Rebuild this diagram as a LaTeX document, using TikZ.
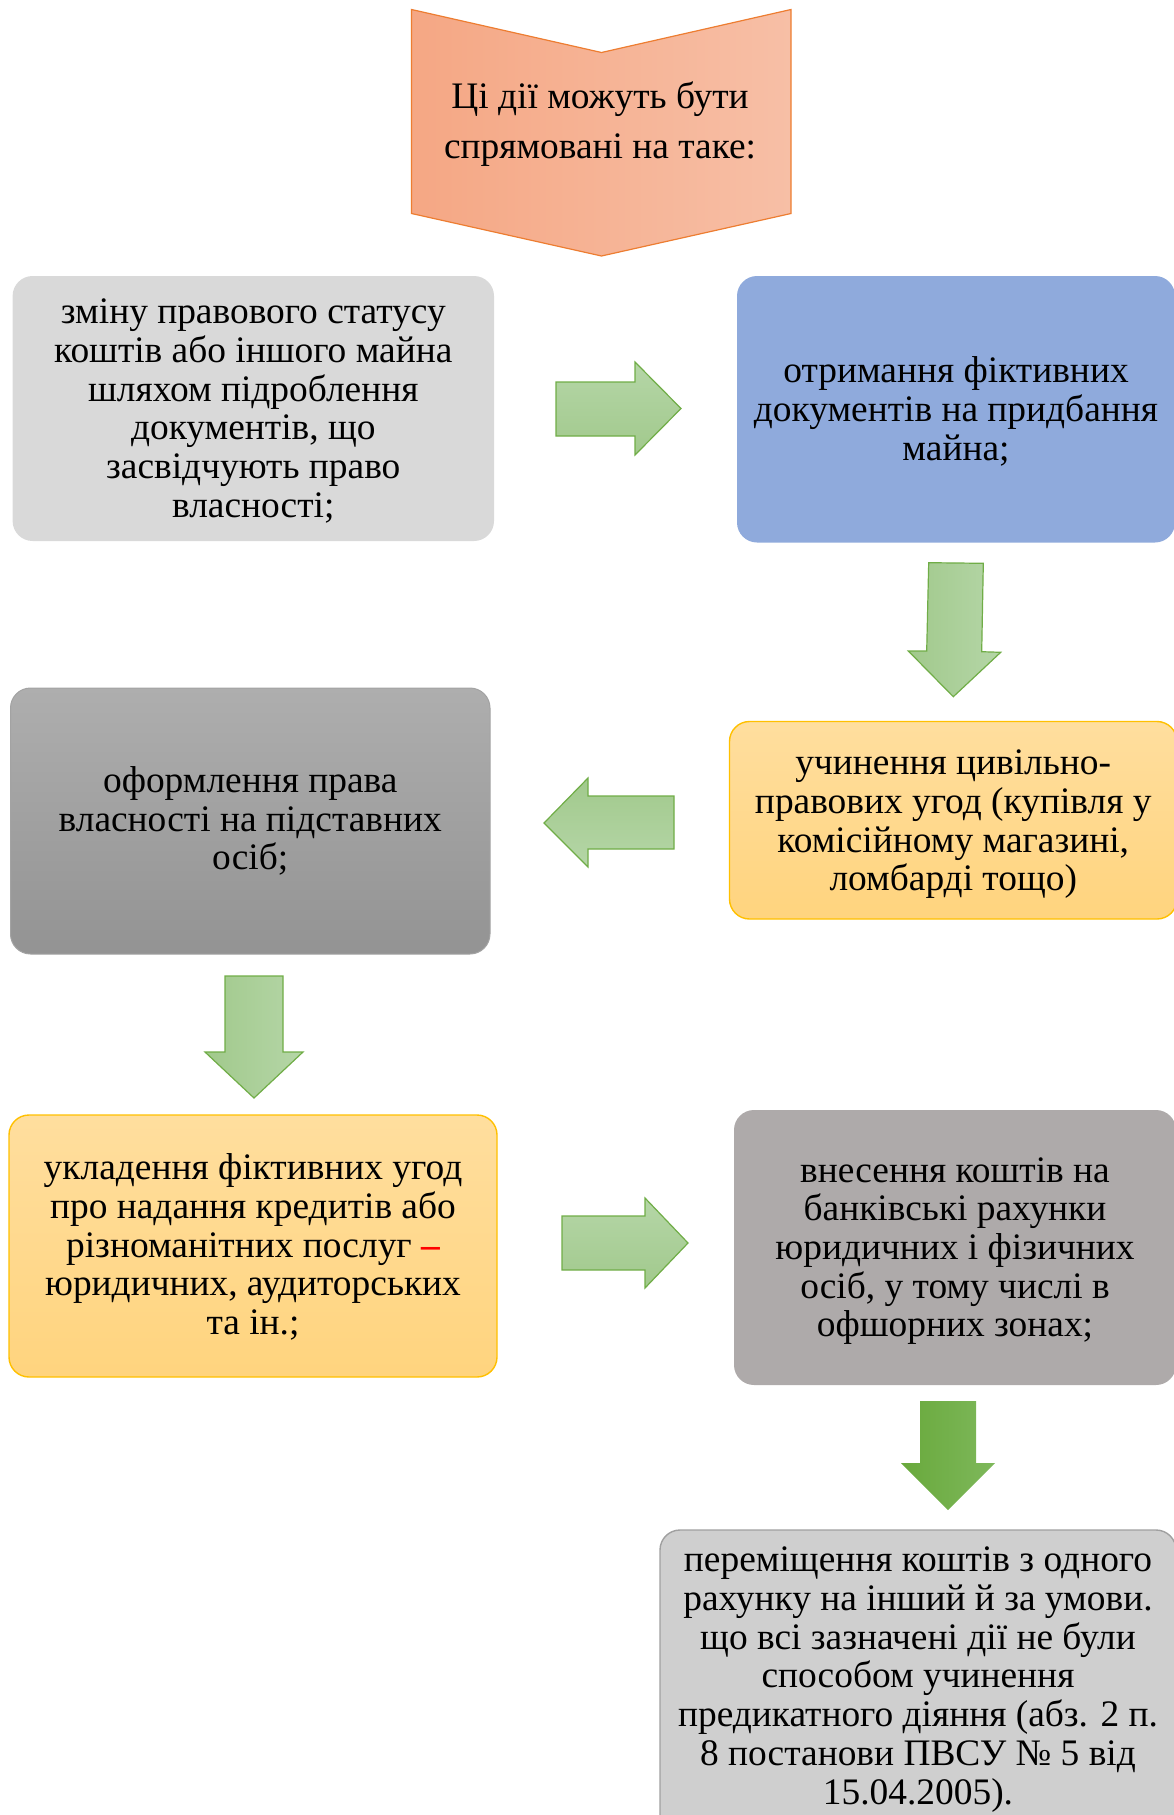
\documentclass[tikz,border=0pt]{standalone}
\usepackage{fontspec}
\setmainfont{Liberation Serif}
\definecolor{chevL}{HTML}{F5A784}
\definecolor{chevR}{HTML}{F7BFA6}
\definecolor{chevEdge}{HTML}{ED7D31}
\definecolor{grA}{HTML}{A1C98C}
\definecolor{grB}{HTML}{B5D6A7}
\definecolor{grEdge}{HTML}{70AD47}
\definecolor{dgA}{HTML}{69A93C}
\definecolor{dgB}{HTML}{7EB85B}
\definecolor{boxA}{HTML}{D9D9D9}
\definecolor{boxB}{HTML}{8FAADC}
\definecolor{orT}{HTML}{FFDE9E}
\definecolor{orB}{HTML}{FFD47E}
\definecolor{orEdge}{HTML}{FFC000}
\definecolor{dkT}{HTML}{AEAEAE}
\definecolor{dkB}{HTML}{939393}
\definecolor{dkEdge}{HTML}{A3A3A3}
\definecolor{boxF}{HTML}{AEAAAA}
\definecolor{boxG}{HTML}{CFCFCF}
\definecolor{boxGEdge}{HTML}{A0A0A0}
\begin{document}
\begin{tikzpicture}[x=0.5pt,y=-0.5pt,
  txt/.style={align=center, inner sep=0pt, font=\fontsize{18.7}{19.35}\selectfont},
  box/.style={rounded corners=10pt, inner sep=0pt},
  greenarr/.style={draw=grEdge, line width=0.6pt, line join=miter},
]
\useasboundingbox (0,0) rectangle (1173,1815);
% top chevron
\path[left color=chevL, right color=chevR, draw=chevEdge, line width=0.6pt]
  (411.5,9.5) -- (601.5,52.5) -- (791,9.5) -- (791,213.5) -- (601.5,256) -- (411.5,213.5) -- cycle;
\node[align=center, font=\fontsize{18.7}{25}\selectfont] (top) at (600,124) {Ці дії можуть бути\\спрямовані на таке:};
% boxes
\node[box, fill=boxA, minimum width=240.7pt, minimum height=132.5pt] (b1) at (253.3,408.5) {};
\node[box, fill=boxB, minimum width=219pt, minimum height=133.25pt] (b2) at (956,409.25) {};
\node[box, top color=orT, bottom color=orB, draw=orEdge, line width=0.7pt, minimum width=223.75pt, minimum height=98.75pt] (b3) at (953.25,820.25) {};
\node[box, top color=dkT, bottom color=dkB, draw=dkEdge, line width=0.5pt, minimum width=239.75pt, minimum height=133pt] (b4) at (250.25,821) {};
\node[box, top color=orT, bottom color=orB, draw=orEdge, line width=0.7pt, minimum width=244pt, minimum height=131pt] (b5) at (253,1246) {};
\node[box, fill=boxF, minimum width=221pt, minimum height=137.5pt] (b6) at (955,1247.5) {};
\node[box, fill=boxG, draw=boxGEdge, line width=0.7pt, minimum width=258pt, minimum height=154.5pt] (b7) at (918,1684.5) {};
% texts
\node[txt] (t1) at ([yshift=-1.2pt]b1.center)
  {зміну правового статусу\\коштів або іншого майна\\шляхом підроблення\\документів, що\\засвідчують право\\власності;};
\node[txt] (t2) at ([yshift=-1pt]b2.center)
  {отримання фіктивних\\документів на придбання\\майна;};
\node[txt] (t3) at ([yshift=-2pt]b3.center)
  {учинення цивільно-\\правових угод (купівля у\\комісійному магазині,\\ломбарді тощо)};
\node[txt] (t4) at (b4.center)
  {оформлення права\\власності на підставних\\осіб;};
\node[txt] (t5) at ([yshift=-0.5pt]b5.center)
  {укладення фіктивних угод\\про надання кредитів або\\різноманітних послуг {\color{red}\bfseries –}\\юридичних, аудиторських\\та ін.;};
\node[txt] (t6) at ([yshift=-1.75pt]b6.center)
  {внесення коштів на\\банківські рахунки\\юридичних і фізичних\\осіб, у тому числі в\\офшорних зонах;};
\node[txt] (t7) at ([yshift=2.5pt]b7.center)
  {переміщення коштів з одного\\рахунку на інший й за умови.\\що всі зазначені дії не були\\способом учинення\\предикатного діяння (абз. 2 п.\\8 постанови ПВСУ № 5 від\\15.04.2005).};
% block arrows
\path[greenarr, top color=grB, bottom color=grA]
  (556,382) -- (635,382) -- (635,362) -- (681,408.5) -- (635,455) -- (635,436) -- (556,436) -- cycle;
\path[greenarr, left color=grA, right color=grB]
  (928.7,562.7) -- (983.3,563.3) -- (981.7,651.7) -- (1000.7,652.3) -- (953.3,696.7) -- (908.3,651) -- (926.7,651) -- cycle;
\path[greenarr, top color=grA, bottom color=grB]
  (674,796) -- (588,796) -- (588,778) -- (544,823) -- (588,867) -- (588,849) -- (674,849) -- cycle;
\path[greenarr, left color=grA, right color=grB]
  (225,976) -- (283,976) -- (283,1052) -- (303,1052) -- (254,1098) -- (205,1052) -- (225,1052) -- cycle;
\path[greenarr, top color=grB, bottom color=grA]
  (562,1216) -- (645,1216) -- (645,1198) -- (688,1243) -- (645,1288) -- (645,1270) -- (562,1270) -- cycle;
\path[left color=dgA, right color=dgB]
  (920,1401) -- (976,1401) -- (976,1463) -- (995,1463) -- (948,1510) -- (901,1463) -- (920,1463) -- cycle;
\end{tikzpicture}
\end{document}
